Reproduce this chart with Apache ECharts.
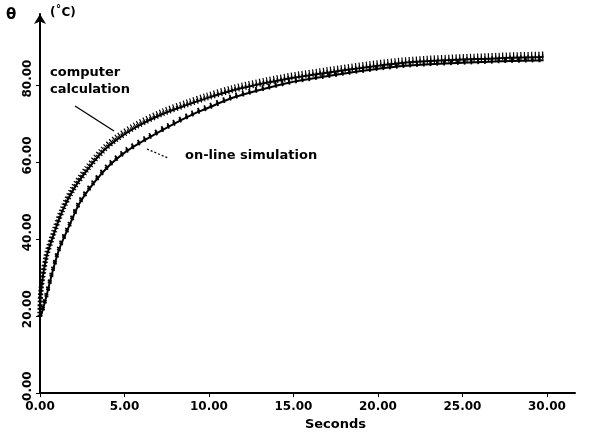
<!DOCTYPE html>
<html>
<head>
<meta charset="utf-8">
<script src="https://cdn.jsdelivr.net/npm/echarts@6/dist/echarts.min.js"></script>
<style>
  html, body { margin: 0; padding: 0; background: #fff; }
  #chart { width: 596px; height: 436px; }
</style>
</head>
<body>
<div id="chart"></div>
<script>
// values (seconds, degC)
var calcTime = [0, 0.05, 0.36, 0.85, 1.34, 1.93, 2.72, 3.71, 4.5, 5.68, 7.26, 8.8, 9.8, 11.4, 13.4, 15.4, 21.3, 27.2, 29.8];
var calcTemp = [20, 26, 35, 41.8, 47.5, 52.6, 57.6, 62.8, 65.8, 69.2, 72.6, 75.1, 76.6, 78.7, 80.7, 82.3, 85.8, 87.1, 87.4];

var simTime = [0, 0.1, 0.36, 0.75, 1.14, 1.73, 2.33, 3.12, 4.1, 5.09, 6.27, 7.65, 9.04, 9.8, 11.4, 13.4, 15.4, 21.3, 27.2, 29.8];
var simTemp = [20, 20.8, 24.9, 31.7, 37.5, 43.5, 49.3, 54.3, 59.2, 62.8, 66.0, 69.4, 72.5, 73.9, 76.8, 79.3, 81.3, 85.0, 86.3, 86.6];

var xTicks = [0, 5, 10, 15, 20, 25, 30];
var yTicks = [0, 20, 40, 60, 80];

function pairs(xs, ys) {
    return xs.map(function(x, i) { return [x, ys[i]]; });
}

var font = 'DejaVu Sans';
var ink = '#000';

var calc = pairs(calcTime, calcTemp);
var sim = pairs(simTime, simTemp);

function lineSeries(data, style) {
    return {
        type: 'line',
        data: data,
        smooth: 0.3,
        symbol: 'none',
        silent: true,
        animation: false,
        lineStyle: style
    };
}

var chart = echarts.init(document.getElementById('chart'), null, { renderer: 'canvas' });

chart.setOption({
    backgroundColor: '#fff',
    animation: false,
    grid: { left: 40, right: 21, top: 14, bottom: 30 },
    xAxis: {
        type: 'value',
        min: 0,
        max: 31.66,
        interval: 5,
        name: 'Seconds',
        nameLocation: 'middle',
        nameGap: 20,
        nameTextStyle: { fontFamily: font, fontWeight: 'bold', fontSize: 13, color: ink, padding: [0, 0, 0, 56] },
        axisLine: { lineStyle: { color: ink, width: 2 } },
        axisTick: { length: 4, lineStyle: { color: ink } },
        splitLine: { show: false },
        axisLabel: {
            showMaxLabel: false,
            margin: 8,
            fontFamily: font, fontWeight: 'bold', fontSize: 12, color: ink,
            formatter: function(v) { return xTicks.indexOf(v) >= 0 ? v.toFixed(2) : ''; }
        }
    },
    yAxis: {
        type: 'value',
        min: 0,
        max: 98.6,
        interval: 20,
        axisLine: {
            show: true,
            symbol: ['none', 'arrow'],
            symbolSize: [9, 10],
            lineStyle: { color: ink, width: 2 }
        },
        axisTick: { show: true, length: 4, lineStyle: { color: ink } },
        splitLine: { show: false },
        axisLabel: {
            showMaxLabel: false,
            rotate: 90,
            margin: 6,
            padding: [0, 0, 0, 14],
            fontFamily: font, fontWeight: 'bold', fontSize: 12, color: ink,
            formatter: function(v) { return yTicks.indexOf(v) >= 0 ? v.toFixed(2) : ''; }
        }
    },
    series: [
        // computer calculation: solid trace plus the dense hatch above it
        lineSeries(calc, { color: ink, width: 2 }),
        lineSeries(calc, { color: ink, width: 5, type: [1.2, 2.4], shadowColor: ink, shadowBlur: 0, shadowOffsetY: -3 }),
        // on-line simulation: trace with coarser saw teeth
        lineSeries(sim, { color: ink, width: 2 }),
        lineSeries(sim, { color: ink, width: 4, type: [1.8, 5], shadowColor: ink, shadowBlur: 0, shadowOffsetY: -2 })
    ],
    graphic: [
        { type: 'text', left: 6, top: 8, style: { text: 'θ', fontFamily: font, fontWeight: 'bold', fontSize: 15, fill: ink } },
        { type: 'text', left: 50, top: 7, style: { text: '(˚C)', fontFamily: font, fontWeight: 'bold', fontSize: 12, fill: ink } },
        { type: 'text', left: 50, top: 66, style: { text: 'computer', fontFamily: font, fontWeight: 'bold', fontSize: 13, fill: ink } },
        { type: 'text', left: 50, top: 83, style: { text: 'calculation', fontFamily: font, fontWeight: 'bold', fontSize: 13, fill: ink } },
        { type: 'line', shape: { x1: 75, y1: 106, x2: 114, y2: 131 }, style: { stroke: ink, lineWidth: 1.3 } },
        { type: 'text', left: 185, top: 149, style: { text: 'on-line simulation', fontFamily: font, fontWeight: 'bold', fontSize: 13, fill: ink } },
        { type: 'line', shape: { x1: 147, y1: 149, x2: 168, y2: 158 }, style: { stroke: ink, lineWidth: 1.3, lineDash: [2, 2] } }
    ]
});
</script>
</body>
</html>
